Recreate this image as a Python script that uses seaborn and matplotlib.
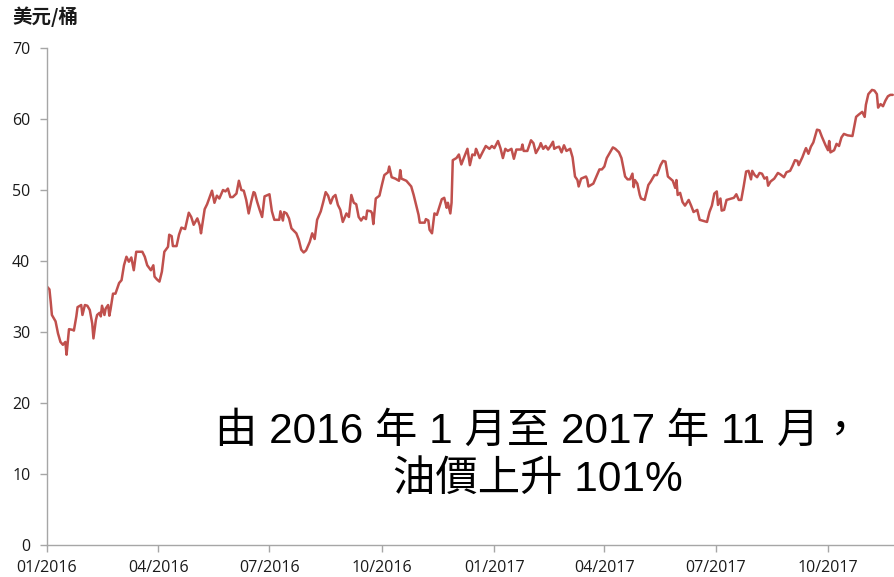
import numpy as np
import pandas as pd
import matplotlib
matplotlib.use("Agg")
import matplotlib.pyplot as plt
import matplotlib.dates as mdates
import seaborn as sns

# ---- data ----
start_date = "2016-01-01"
day_offsets = [
    0, 2, 3, 4, 7, 9, 11, 13, 15, 16, 18, 21, 22, 24, 25, 28, 29, 31, 33, 35,
    37, 38, 40, 41, 43, 44, 45, 47, 48, 50, 51, 52, 54, 56, 59, 61, 63, 65, 67, 69,
    71, 73, 78, 80, 82, 85, 87, 88, 90, 92, 94, 96, 99, 100, 102, 103, 106, 108, 110, 113,
    116, 118, 120, 123, 125, 126, 129, 131, 135,
    137, 139, 141, 144, 146, 148, 150, 152, 155, 157, 159, 161, 163, 165, 167, 169, 170, 172,
    174, 176, 178, 182, 184, 186, 190, 191, 193, 194, 196, 198, 200, 204, 206, 208, 210, 212,
    215, 217, 219, 221, 224, 226, 228, 230, 232, 234, 236, 238, 240, 242, 245, 247, 249, 251,
    253, 255, 257, 259, 261, 262, 265, 266, 267, 269, 272,
    274, 276, 279, 280, 282, 285, 288, 289, 290, 294, 296, 298, 300, 302, 304, 305, 309, 310,
    312, 313, 315, 317, 319, 321, 323, 325, 327, 328, 330, 331, 332, 335, 337, 339, 341, 344,
    346, 348, 350, 351, 352, 354, 356, 359, 362, 364, 366, 369, 371, 373, 375, 377, 380, 382,
    384, 388, 389, 390, 393, 396, 398, 400, 403, 404, 406, 408, 410, 412, 414, 415, 417, 419,
    421, 423, 425, 428, 430, 432, 434, 435, 437, 441, 442, 443, 445, 447, 450, 452, 454, 456,
    458, 461, 463, 465, 468, 470, 473, 475, 477, 479, 480, 481, 483, 485, 486, 489, 492, 494,
    497, 499, 502, 504, 506, 508, 512, 514, 515, 516, 518, 520, 522, 525, 527, 529, 532, 534,
    536, 540, 542, 544, 546, 548, 549, 551, 552,
    554, 556, 560, 562, 564, 566, 568, 570, 572, 574, 576, 577, 579, 581, 583, 585, 587, 589,
    590, 592, 595, 598, 600, 603, 605, 608, 610, 612, 614, 615, 618, 620, 621, 623, 625, 627,
    629, 630, 632, 634, 637, 639, 640, 641, 644, 646, 648, 650, 652, 655, 659, 660, 662, 664,
    667, 669, 670, 672, 675, 677, 679, 680, 682, 684, 686, 688, 690, 692,
]
prices = [
    36.4, 36.0, 34.3, 32.4, 31.5, 29.8, 28.6, 28.2, 28.6, 26.8, 30.4, 30.3, 30.2, 32.2, 33.5, 33.8, 32.4, 33.8, 33.7, 33.1,
    31.2, 29.1, 31.7, 32.4, 32.7, 32.2, 33.7, 32.4, 33.3, 33.8, 32.3, 33.2, 35.4, 35.4, 36.9, 37.3, 39.4, 40.6, 39.9, 40.5,
    38.7, 41.3, 41.3, 40.6, 39.4, 38.7, 39.4, 37.8, 37.4, 37.1, 38.5, 41.3, 42.0, 43.7, 43.5, 42.1, 42.1, 43.7, 44.7, 44.5,
    46.8, 46.2, 45.1, 46.0, 45.0, 43.9, 47.3, 48.0, 49.9,
    48.2, 49.2, 48.8, 50.0, 49.8, 50.2, 49.0, 49.0, 49.5, 51.3, 50.0, 49.9, 48.6, 46.7, 48.3, 49.7, 49.6, 48.3,
    47.2, 46.2, 49.1, 49.4, 47.0, 45.8, 45.8, 47.0, 45.7, 46.9, 46.7, 46.0, 44.6, 43.9, 43.0, 41.6, 41.2, 41.5,
    42.7, 43.9, 43.1, 45.8, 47.0, 48.3, 49.7, 49.2, 48.1, 49.0, 49.3, 47.9, 47.2, 45.5, 46.7, 46.2, 49.3, 48.2,
    48.0, 46.2, 45.7, 46.2, 45.9, 47.1, 47.0, 46.7, 45.2, 48.8, 49.2,
    50.7, 52.1, 52.5, 53.3, 51.8, 51.6, 51.3, 52.8, 51.6, 51.3, 50.9, 50.5, 49.3, 47.9, 46.5, 45.4, 45.4, 45.9,
    45.7, 44.4, 43.9, 46.7, 46.5, 47.6, 48.7, 48.9, 47.5, 48.2, 46.7, 48.2, 54.2, 54.5, 55.0, 53.6, 54.5, 55.8,
    53.5, 55.0, 54.9, 55.8, 55.4, 54.5, 55.2, 56.2, 55.8, 56.2, 55.9, 56.9, 55.9, 54.5, 55.8, 55.5, 55.8, 54.4,
    55.7, 55.7, 56.4, 55.5, 55.5, 57.0, 56.6, 55.2, 56.1, 56.6, 55.8, 56.2, 55.7, 56.2, 56.8, 55.8, 56.0, 56.1,
    55.3, 56.3, 55.5, 55.8, 54.6, 51.9, 51.4, 50.5, 51.6, 51.9, 51.5, 50.5, 50.7, 50.9, 52.1, 52.9, 52.9, 53.3,
    54.5, 55.4, 56.0, 55.8, 55.3, 54.5, 51.9, 51.5, 51.5, 52.3, 50.4, 51.4, 50.9, 49.3, 48.8, 48.6, 50.7, 51.2,
    52.1, 52.1, 53.5, 54.1, 54.0, 51.9, 51.3, 50.3, 51.4, 49.3, 49.6, 48.3, 47.8, 48.6, 47.8, 46.9, 47.2, 45.8,
    45.7, 45.5, 46.9, 47.8, 49.5, 49.8, 47.9, 48.8, 47.1,
    47.2, 48.6, 48.8, 48.9, 49.4, 48.6, 48.6, 50.5, 52.6, 52.7, 51.5, 52.7, 52.1, 51.8, 52.4, 52.3, 51.6, 51.8,
    50.6, 51.2, 51.6, 52.4, 52.2, 51.8, 52.5, 52.7, 53.4, 54.2, 54.1, 53.5, 54.6, 55.5, 55.9, 55.1, 56.1, 56.7,
    57.9, 58.5, 58.4, 57.5, 56.3, 55.6, 56.9, 55.3, 55.6, 56.5, 56.2, 57.4, 57.9, 57.7, 57.6, 58.5, 60.3, 60.6,
    61.0, 60.3, 62.0, 63.5, 64.1, 64.0, 63.5, 61.6, 62.1, 61.8, 62.6, 63.2, 63.4, 63.4,
]
y_ticks = [0, 10, 20, 30, 40, 50, 60, 70]
y_unit = "美元/桶"
note_text = "由 2016 年 1 月至 2017 年 11 月，\n油價上升 101%"

df = pd.DataFrame({
    "date": pd.Timestamp(start_date) + pd.to_timedelta(day_offsets, unit="D"),
    "price": prices,
})

sns.set_theme(style="white")
plt.rcParams["font.family"] = ["Noto Sans CJK TC", "DejaVu Sans"]

fig = plt.figure(figsize=(8.94, 5.77), dpi=100)
ax = fig.add_axes([47 / 894, 32 / 577, 1 - 47 / 894, (545 - 48) / 577])

sns.lineplot(data=df, x="date", y="price", color="#C0504D", linewidth=1.8, ax=ax)

ax.set_ylim(0, 70)
ax.set_yticks(y_ticks)
ax.set_xlim(pd.Timestamp(start_date), pd.Timestamp(start_date) + pd.Timedelta(days=693))
ax.xaxis.set_major_locator(mdates.MonthLocator(bymonth=[1, 4, 7, 10]))
ax.xaxis.set_major_formatter(mdates.DateFormatter("%m/%Y"))
ax.set_xlabel("")
ax.set_ylabel("")

for side in ["top", "right"]:
    ax.spines[side].set_visible(False)
for side in ["left", "bottom"]:
    ax.spines[side].set_color("#A6A6A6")
    ax.spines[side].set_linewidth(1.0)

ax.tick_params(axis="both", which="major", direction="out", length=5, width=1,
               color="#A6A6A6", labelcolor="#1a1a1a", labelsize=11.5, left=True, bottom=True)
ax.tick_params(axis="y", pad=7)
ax.tick_params(axis="x", pad=6)
for lab in ax.get_xticklabels() + ax.get_yticklabels():
    lab.set_family(["Open Sans", "DejaVu Sans"])

fig.text(12 / 894, 1 - 17 / 577, y_unit, ha="left", va="center", fontsize=14,
         fontweight="bold", color="#1a1a1a")

fig.text(538 / 894, 1 - 456 / 577, note_text, ha="center", va="center",
         multialignment="center", fontsize=30.5, color="black", linespacing=1.28,
         family=["Liberation Sans", "Noto Sans CJK TC", "DejaVu Sans"])

fig.savefig("out.png", dpi=100)
